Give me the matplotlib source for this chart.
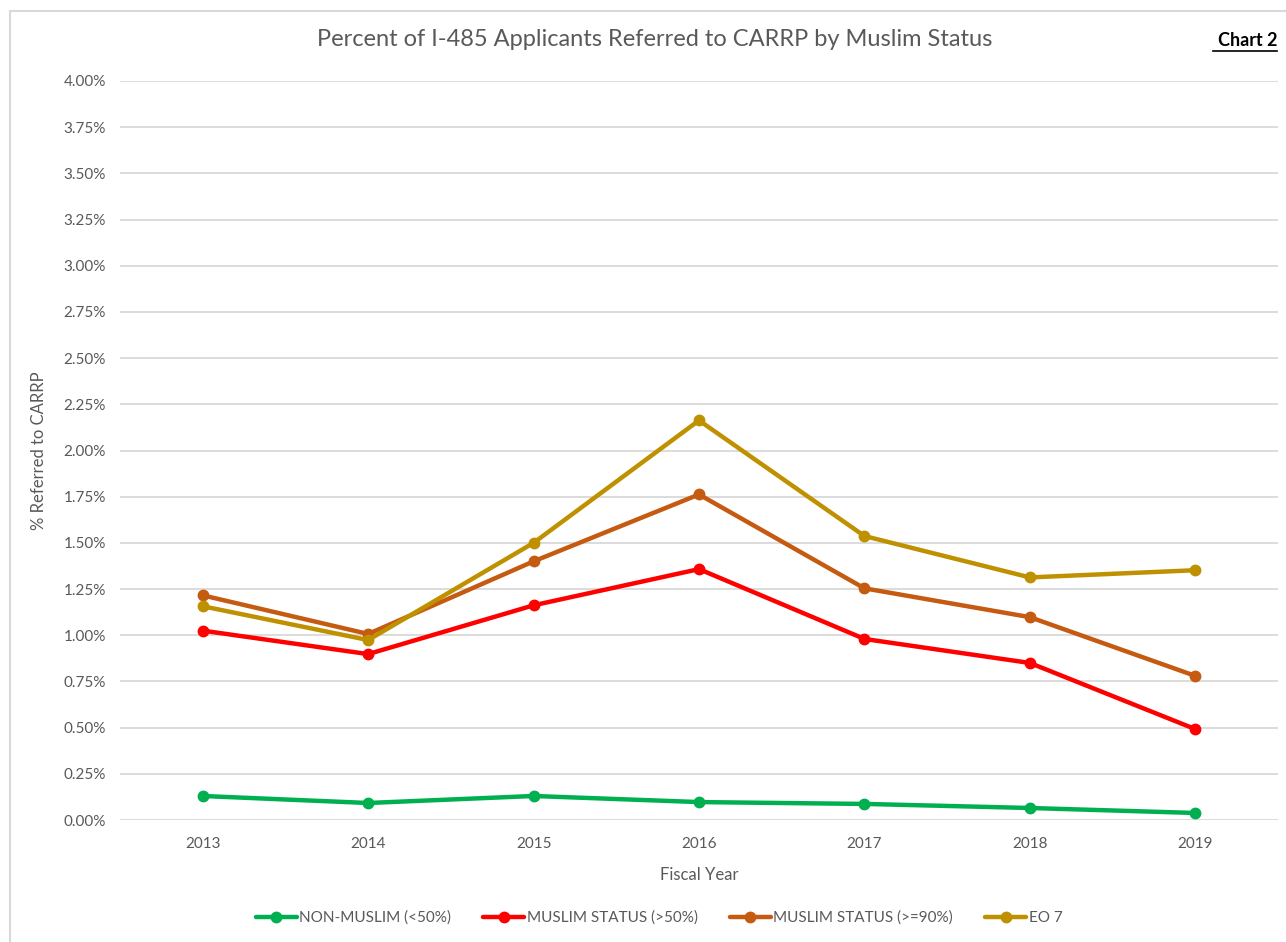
import matplotlib.pyplot as plt
from matplotlib.patches import Rectangle
from matplotlib.ticker import FuncFormatter, MultipleLocator

plt.rcParams['font.family'] = ['Lato', 'DejaVu Sans']

# data (percent)
years = [2013, 2014, 2015, 2016, 2017, 2018, 2019]
non_muslim = [0.130, 0.092, 0.130, 0.097, 0.087, 0.065, 0.038]
muslim_50 = [1.025, 0.898, 1.162, 1.358, 0.980, 0.850, 0.492]
muslim_90 = [1.216, 1.007, 1.400, 1.762, 1.254, 1.098, 0.780]
eo7 = [1.157, 0.974, 1.500, 2.163, 1.537, 1.313, 1.352]

series = [
    ('NON-MUSLIM (<50%)', non_muslim, '#00B050'),
    ('MUSLIM STATUS (>50%)', muslim_50, '#FF0000'),
    ('MUSLIM STATUS (>=90%)', muslim_90, '#C55A11'),
    ('EO 7', eo7, '#BF9000'),
]

fig = plt.figure(figsize=(12.86, 9.42), dpi=100)
W, H = 1286, 942
ax = fig.add_axes([120 / W, 1 - 820 / H, (1278 - 120) / W, (820 - 81) / H])

# outer chart border like the Excel frame
fig.patches.append(Rectangle((10 / W, -0.05), 1.2, 1 - 11 / H + 0.05,
                             transform=fig.transFigure, fill=False,
                             edgecolor='#D9D9D9', lw=1.5))

for name, vals, col in series:
    ax.plot(years, vals, color=col, lw=3.2, marker='o', markersize=7.5,
            label=name, solid_capstyle='round')

ax.set_xlim(2012.5, 2019.5)
ax.set_ylim(0, 4.0)
ax.yaxis.set_major_locator(MultipleLocator(0.25))
ax.yaxis.set_major_formatter(FuncFormatter(lambda v, p: '%.2f%%' % v))
ax.set_xticks(years)
ax.grid(axis='y', color='#D9D9D9', lw=1.3)
ax.set_axisbelow(True)
for s in ax.spines.values():
    s.set_visible(False)
ax.tick_params(length=0, labelsize=11, colors='#595959')
ax.tick_params(axis='y', pad=10)
ax.tick_params(axis='x', pad=12)

ax.set_xlabel('Fiscal Year', fontsize=12, color='#595959', labelpad=12)
ax.set_ylabel('% Referred to CARRP', fontsize=12, color='#595959', labelpad=12)

fig.text(655 / W, 1 - 40 / H, 'Percent of I-485 Applicants Referred to CARRP by Muslim Status',
         ha='center', va='center', fontsize=17, color='#595959')
fig.text(1277 / W, 1 - 40 / H, 'Chart 2', ha='right', va='center', fontsize=13,
         fontweight='bold', color='black')
fig.add_artist(plt.Line2D([1213 / W, 1277 / W], [1 - 51 / H, 1 - 51 / H],
                          color='black', lw=1.2))

fig.legend(loc='center', bbox_to_anchor=(659 / W, 1 - 918 / H), ncol=4,
           frameon=False, fontsize=11, labelcolor='#595959',
           handlelength=2.7, handletextpad=0.15, columnspacing=2.1)

fig.savefig('out.png', dpi=100, facecolor='white')
